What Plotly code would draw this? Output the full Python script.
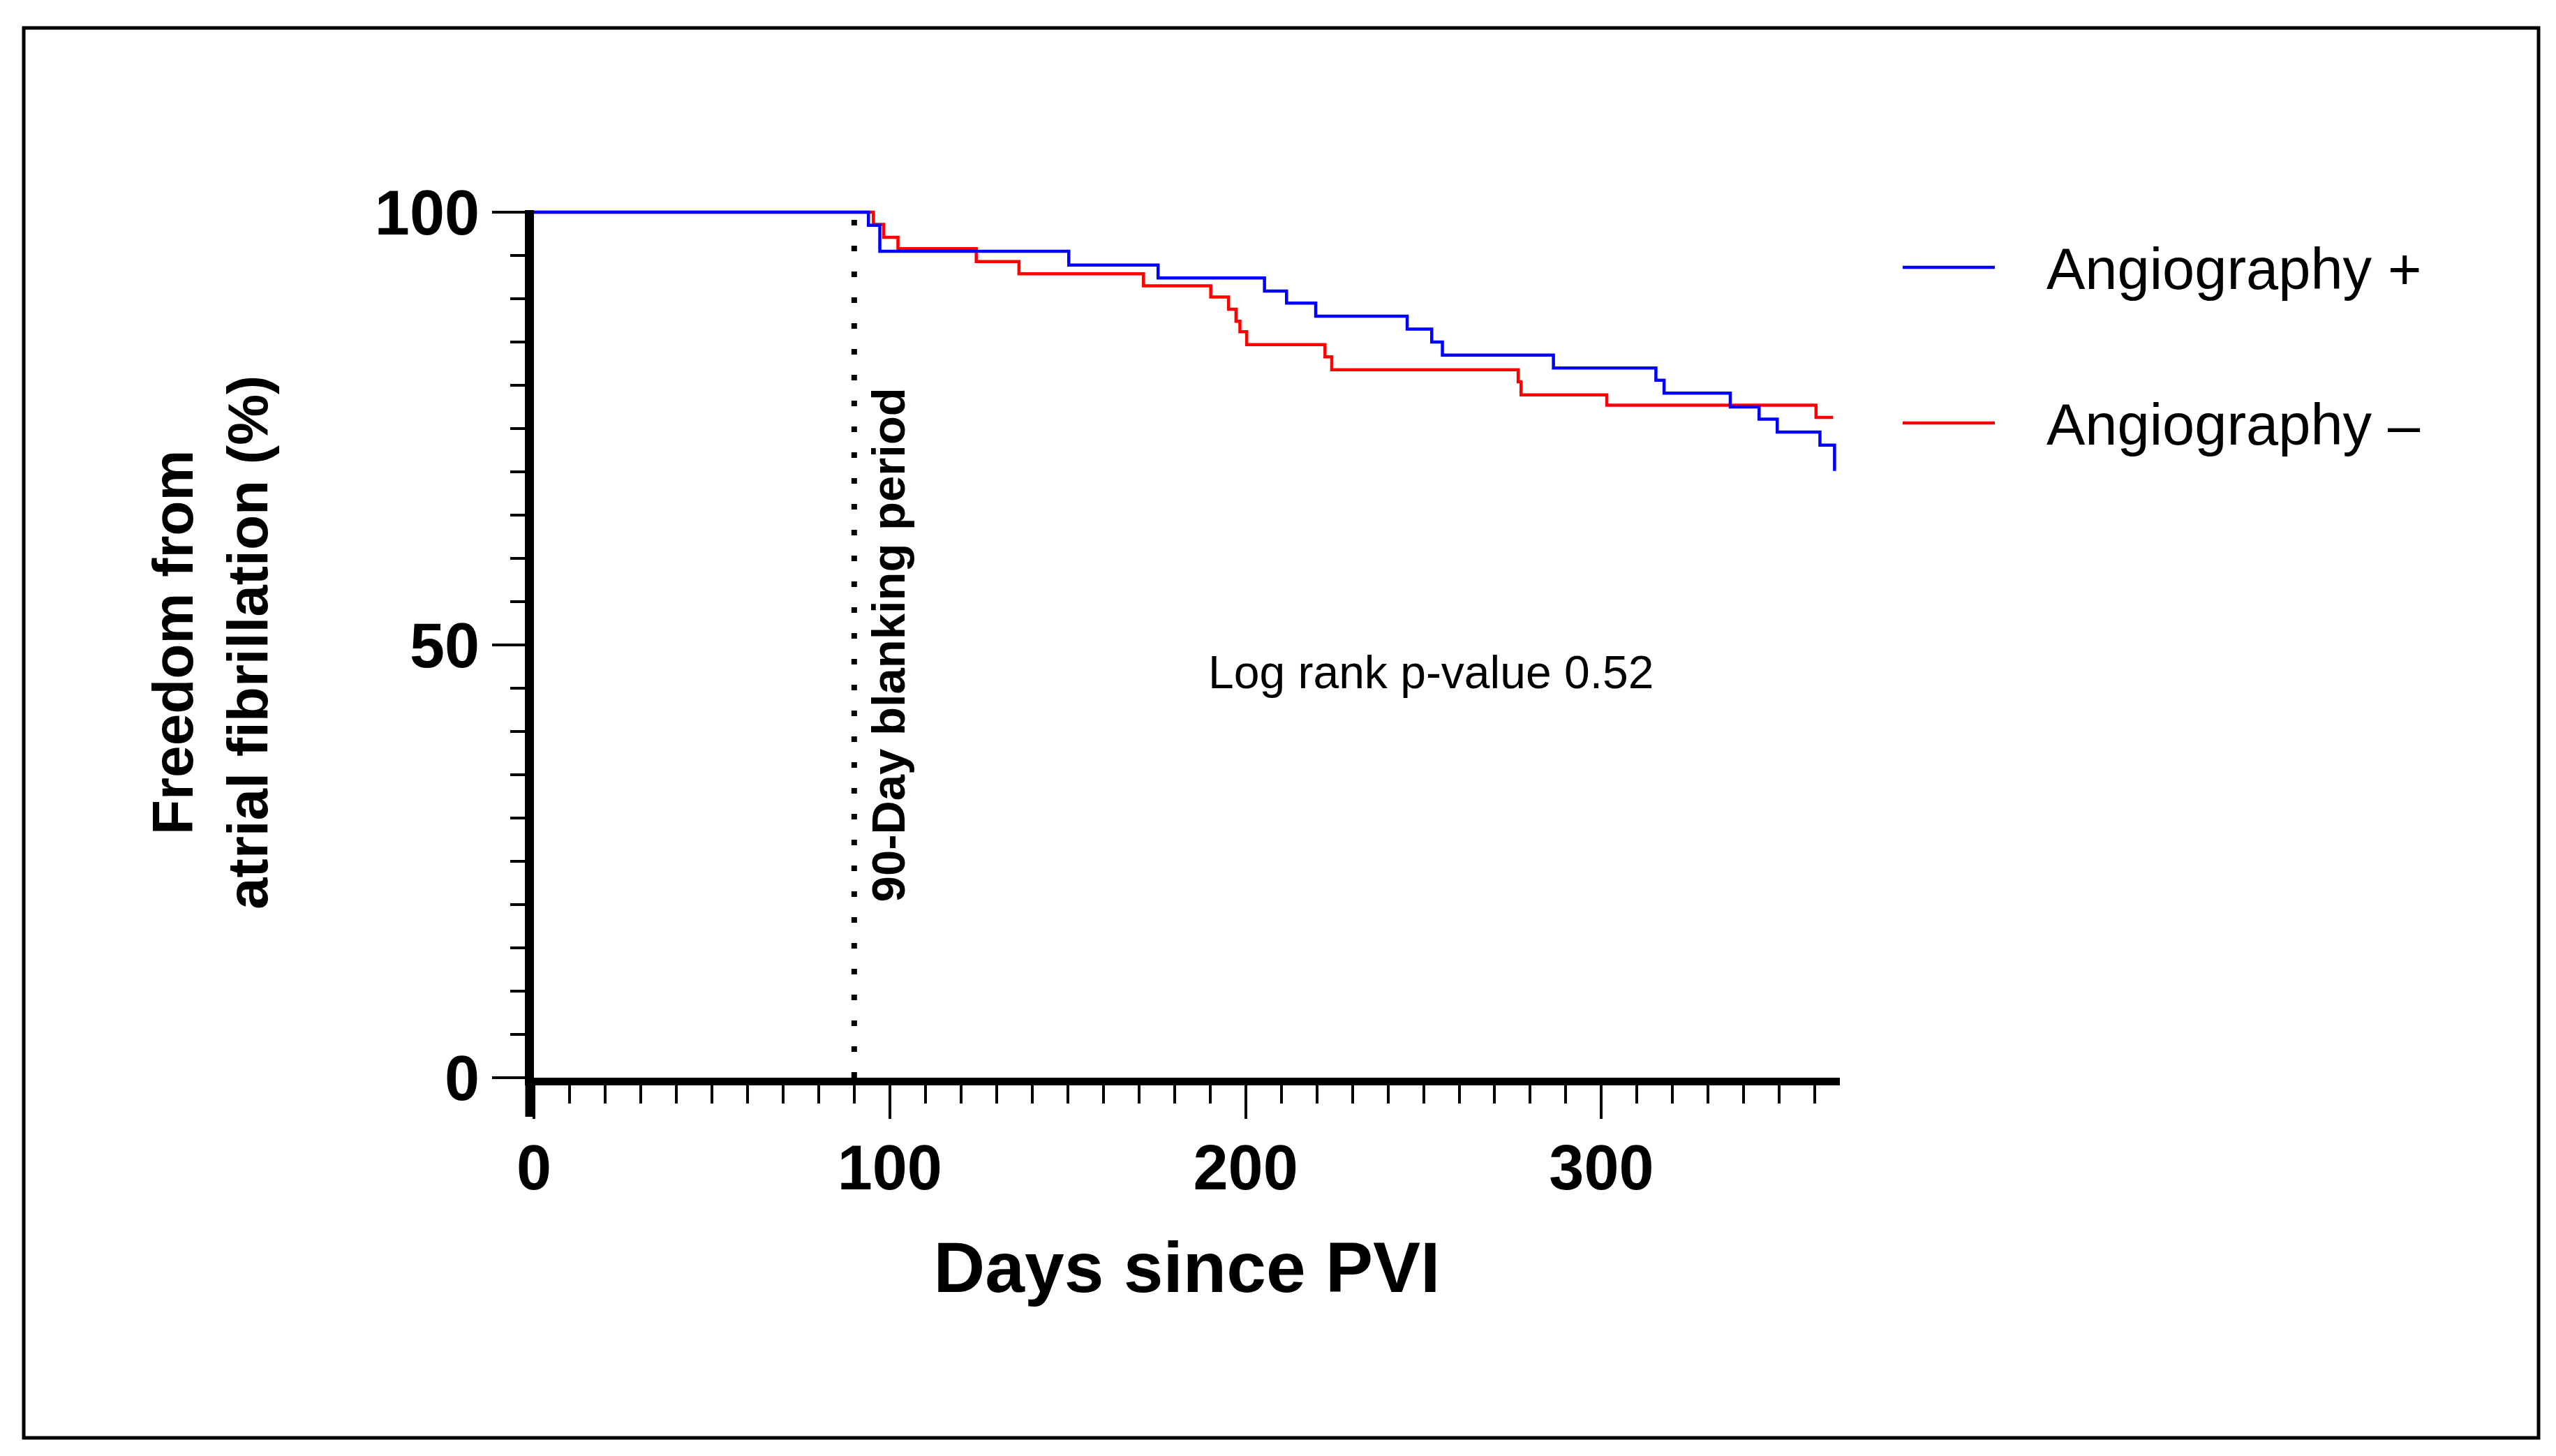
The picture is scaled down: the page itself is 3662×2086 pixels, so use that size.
import plotly.graph_objects as go

# ---------------- data ----------------
days_angio_pos = [0, 94.0, 97.2, 150.3, 175.4, 205.3, 211.5, 219.7, 245.4, 252.3,
                  255.3, 286.5, 315.3, 317.6, 336.2, 344.3, 349.4, 361.4, 365.5]
surv_angio_pos = [100, 98.5, 95.5, 93.9, 92.4, 90.9, 89.5, 88.0, 86.5, 85.0,
                  83.5, 82.0, 80.6, 79.1, 77.5, 76.1, 74.6, 73.1, 70.1]

days_angio_neg = [0, 95.4, 98.3, 102.3, 124.3, 136.3, 171.3, 190.2, 195.2, 197.3,
                  198.4, 200.3, 222.3, 224.2, 276.6, 277.4, 301.5, 360.3, 365.1]
surv_angio_neg = [100, 98.6, 97.1, 95.8, 94.3, 92.9, 91.5, 90.2, 88.8, 87.4,
                  86.2, 84.7, 83.3, 81.8, 80.4, 78.9, 77.7, 76.3, 76.3]

series_names = ["Angiography +", "Angiography \u2013"]
series_colors = ["#0000FF", "#FF0000"]

x_tick_vals = [0, 100, 200, 300]
y_tick_vals = [0, 50, 100]
blanking_day = 90
p_value_text = "Log rank p-value 0.52"

# ---------------- layout geometry ----------------
W, H = 3662, 2086
PL, PR = 757, 2628
PT, PB = 293, 1536
FONT = "Liberation Sans, Arial, sans-serif"


def pxx(p):
    return (p - PL) / (PR - PL)


def pxy(p):
    return (PB - p) / (PB - PT)


fig = go.Figure()
# red drawn first so the blue curve sits on top, as in the reference
for xs, ys, name, col in [
    (days_angio_neg, surv_angio_neg, series_names[1], series_colors[1]),
    (days_angio_pos, surv_angio_pos, series_names[0], series_colors[0]),
]:
    fig.add_trace(go.Scatter(x=xs, y=ys, mode="lines", name=name,
                             line=dict(color=col, width=4.5, shape="hv"),
                             showlegend=False))

shapes = []
# 90-day blanking dotted line
shapes.append(dict(type="line", xref="x", yref="y", x0=blanking_day, x1=blanking_day,
                   y0=0, y1=100, line=dict(color="black", width=8, dash="8px,29px")))
# y-axis extension below x-axis (Prism style)
shapes.append(dict(type="line", xref="paper", yref="paper", x0=pxx(751), x1=pxx(751),
                   y0=pxy(1536), y1=pxy(1592), line=dict(color="black", width=13)))
# outer frame
shapes.append(dict(type="rect", xref="paper", yref="paper", x0=pxx(26), x1=pxx(3629),
                   y0=pxy(2052), y1=pxy(32), line=dict(color="black", width=5)))

annotations = []
# manual legend
for i, (name, col) in enumerate(zip(series_names, series_colors)):
    ly = [375, 598][i]
    shapes.append(dict(type="line", xref="paper", yref="paper", x0=pxx(2718), x1=pxx(2850),
                       y0=pxy(ly), y1=pxy(ly), line=dict(color=col, width=4.5)))
    annotations.append(dict(xref="paper", yref="paper", x=pxx(2922), y=pxy(ly + 2),
                            xanchor="left", yanchor="middle", showarrow=False, text=name,
                            font=dict(family=FONT, size=83, color="black")))

# y-axis title
annotations.append(dict(xref="paper", yref="paper", x=pxx(293), y=pxy(913),
                        xanchor="center", yanchor="middle", showarrow=False, textangle=-90,
                        text="<b>Freedom from<br>atrial fibrillation (%)</b>",
                        font=dict(family=FONT, size=82, color="black")))
# blanking period label
annotations.append(dict(xref="x", yref="y", x=blanking_day, y=50, xshift=9,
                        xanchor="left", yanchor="middle", showarrow=False, textangle=-90,
                        text="<b>90-Day blanking period</b>",
                        font=dict(family=FONT, size=67, color="black")))
# p-value
annotations.append(dict(xref="paper", yref="paper", x=pxx(2042), y=pxy(955),
                        xanchor="center", yanchor="middle", showarrow=False,
                        text=p_value_text,
                        font=dict(family=FONT, size=66, color="black")))

fig.update_layout(
    width=W, height=H,
    margin=dict(l=PL, r=W - PR, t=PT, b=H - PB, autoexpand=False),
    paper_bgcolor="white", plot_bgcolor="white",
    shapes=shapes, annotations=annotations,
    font=dict(family=FONT, color="black"),
)

fig.update_xaxes(
    range=[0, 367], showgrid=False, zeroline=False,
    showline=True, linecolor="black", linewidth=11,
    tickmode="array", tickvals=x_tick_vals, ticktext=[str(v) for v in x_tick_vals],
    ticks="outside", ticklen=48, tickwidth=3.5, tickcolor="black",
    ticklabelstandoff=-7,
    minor=dict(ticks="outside", dtick=10, tick0=0, ticklen=26, tickwidth=3.5,
               tickcolor="black", showgrid=False),
    tickfont=dict(family=FONT, size=90, color="black", weight="bold"),
    title=dict(text="<b>Days since PVI</b>", standoff=62,
               font=dict(family=FONT, size=102, color="black")),
)
fig.update_yaxes(
    range=[0, 100.25], showgrid=False, zeroline=False,
    showline=True, linecolor="black", linewidth=13,
    tickmode="array", tickvals=y_tick_vals, ticktext=[str(v) for v in y_tick_vals],
    ticks="outside", ticklen=47, tickwidth=3.5, tickcolor="black",
    minor=dict(ticks="outside", dtick=5, tick0=0, ticklen=21, tickwidth=3.5,
               tickcolor="black", showgrid=False),
    tickfont=dict(family=FONT, size=90, color="black", weight="bold"),
)

fig.write_html("out.html")
